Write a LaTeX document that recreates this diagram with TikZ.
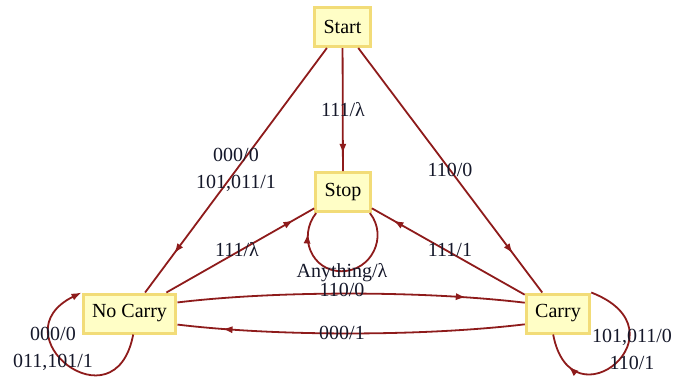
\documentclass[tikz,border=0pt]{standalone}
\usepackage{fontspec}
\setmainfont{Liberation Serif}
\usepackage{tikz}
\usetikzlibrary{arrows.meta,decorations.markings}
\definecolor{fsmwire}{HTML}{8E1B1B}
\definecolor{fsmfill}{HTML}{FFFEC6}
\definecolor{fsmrim}{HTML}{F2DC78}
\definecolor{fsmink}{HTML}{15182A}

\begin{document}
\begin{tikzpicture}[
  x=0.5pt, y=-0.5pt,
  font=\fontsize{10}{13.5}\selectfont, >={Latex[length=5pt,width=3.6pt]},
  state/.style={draw=fsmrim, line width=1.5pt, fill=fsmfill, inner xsep=4.5pt, minimum height=19.5pt, text=black},
  lbl/.style={text=fsmink, align=center, inner sep=1pt},
  wire/.style={fsmwire, line width=0.9pt},
  tipat/.style={postaction={decorate, decoration={markings, mark=at position #1 with {\arrow{>}}}}},
]
  \useasboundingbox (0,0) rectangle (673,377);
  \node[state] (start) at (342.5,27) {Start};
  \node[state] (stop) at (343,192) {Stop};
  \node[state] (nocarry) at (129.5,313.5) {No Carry};
  \node[state] (carry) at (558,313.5) {Carry};

  \draw[wire, tipat=0.86] (start) -- (stop);
  \draw[wire, tipat=0.84] (start) -- (nocarry);
  \draw[wire, tipat=0.84] (start) -- (carry);
  \draw[wire, tipat=0.86] (nocarry) -- (stop);
  \draw[wire, tipat=0.86] (carry) -- (stop);
  \draw[wire, tipat=0.83] (nocarry.13) .. controls +(100,-12) and +(-100,-12) .. (carry.162);
  \draw[wire, tipat=0.87] (carry.198) .. controls +(-100,12) and +(100,12) .. (nocarry.-13);
  \draw[wire, tipat=0.86] (stop.-38) .. controls +(18.5,23.6) and +(30,0) .. ++(-28.4,58.2)
    .. controls +(-30,0) and +(-18.5,23.6) .. (stop.-142);
  \draw[wire, ->] (nocarry.-80) .. controls +(-18,95) and +(-85,42) .. (nocarry.north west);
  \draw[wire, tipat=0.8] (carry.north east) .. controls +(98,38) and +(18,95) .. (carry.-103);

  \node[lbl] (lstartstop) at (343,110) {111/λ};
  \node[lbl] (lstartnc) at (236,170) {000/0\\101,011/1};
  \node[lbl] (lstartc) at (450,170) {110/0};
  \node[lbl] (lncstop) at (237,250) {111/λ};
  \node[lbl] (lcstop) at (450,250) {111/1};
  \node[lbl] (lstoploop) at (342,273) {Anything/λ};
  \node[lbl] (lnccarry) at (342,290) {110/0};
  \node[lbl] (lcarrync) at (342,333) {000/1};
  \node[lbl] (lncloop) at (53,349) {000/0\\011,101/1};
  \node[lbl] (lcloop) at (632,349) {101,011/0\\110/1};
\end{tikzpicture}
\end{document}
